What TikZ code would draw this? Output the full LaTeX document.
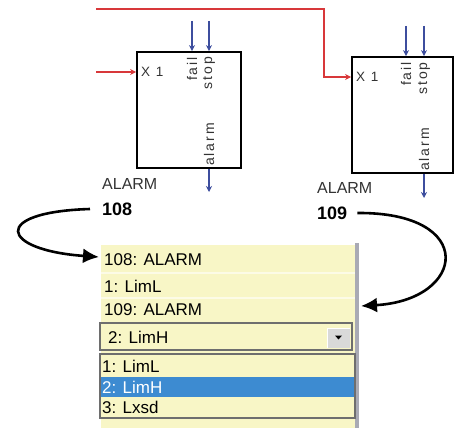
\documentclass[tikz,border=0pt]{standalone}
\usepackage{fontspec}
\setmainfont{Liberation Sans}
\newfontfamily\portfont[LetterSpace=14]{Liberation Sans}
\usetikzlibrary{arrows.meta, positioning}
\definecolor{wirered}{HTML}{D8383A}
\definecolor{sigblue}{HTML}{3D4E9E}
\definecolor{lblgray}{HTML}{333333}
\definecolor{listyellow}{HTML}{F8F6C6}
\definecolor{rowline}{HTML}{FCFBE6}
\definecolor{selblue}{HTML}{3D8BD1}
\definecolor{framegray}{HTML}{6E6E6E}
\definecolor{barfill}{HTML}{A9AAB4}

\begin{document}
\begin{tikzpicture}[x=1pt, y=-1pt,
      block/.style={rectangle, draw=black, line width=1.8pt, minimum width=104pt, minimum height=116pt},
      redwire/.style={wirered, line width=1.3pt, -{Stealth[length=6pt, width=6pt]}},
      sig/.style={sigblue, line width=1.3pt, -{Stealth[length=6pt, width=6pt]}},
      pin/.style={font=\portfont\fontsize{13.5}{14}\selectfont, text=lblgray, inner sep=0pt},
      port/.style={rotate=90, font=\portfont\fontsize{14}{15}\selectfont, text=lblgray, inner sep=0pt},
      tag/.style={anchor=west, font=\fontsize{16}{17}\selectfont, text=lblgray, inner sep=0pt},
      num/.style={anchor=west, font=\fontsize{18}{19}\selectfont\bfseries, inner sep=0pt},
      rowtxt/.style={anchor=west, font=\fontsize{17}{18}\selectfont, inner sep=0pt},
      pointer/.style={line width=2.6pt, -{Latex[length=16pt, width=15pt]}},
    ]
    \useasboundingbox (0,0) rectangle (455,428);

    % the two function blocks
    \node[block] (blk1) at (189,110) {};
    \node[block, minimum width=101pt] (blk2) at (402.5,115) {};

    % red x1 wires
    \coordinate (wtop) at (96,9);
    \coordinate (win) at (96,72);
    \draw[redwire] (win) -- (blk1.west |- win);
    \draw[redwire] (wtop) -| (324,77) -- (blk2.west |- 0,77);
    \node[pin, anchor=west] (x1a) at (141,72) {X 1};
    \node[pin, anchor=west] (x1b) at (356,77) {X 1};

    % blue signals, block 108
    \coordinate (fail1) at (192,21);
    \coordinate (stop1) at (209,21);
    \coordinate (out1) at (209,192);
    \draw[sig] (fail1) -- (fail1 |- blk1.north);
    \draw[sig] (stop1) -- (stop1 |- blk1.north);
    \draw[sig] (stop1 |- blk1.south) -- (out1);
    \node[port, anchor=east] (pf1) at (192,57) {fail};
    \node[port, anchor=east] (ps1) at (209,57) {stop};
    \node[port, anchor=west] (pa1) at (209,166) {alarm};

    % blue signals, block 109
    \coordinate (fail2) at (406,26);
    \coordinate (stop2) at (424,26);
    \coordinate (out2) at (424,198);
    \draw[sig] (fail2) -- (fail2 |- blk2.north);
    \draw[sig] (stop2) -- (stop2 |- blk2.north);
    \draw[sig] (stop2 |- blk2.south) -- (out2);
    \node[port, anchor=east] (pf2) at (406,62) {fail};
    \node[port, anchor=east] (ps2) at (424,62) {stop};
    \node[port, anchor=west] (pa2) at (424,171) {alarm};

    % block names and numbers
    \node[tag] (nm1) at (102,184) {ALARM};
    \node[num] (num108) at (102,209) {108};
    \node[tag] (nm2) at (317,188) {ALARM};
    \node[num] (num109) at (317,213) {109};

    % list panel
    \fill[listyellow] (101,245) rectangle (355,428);
    \fill[barfill] (355,243) rectangle (359,428);
    \draw[rowline, line width=1.2pt] (101,273) -- (355,273);
    \draw[rowline, line width=1.2pt] (101,298) -- (355,298);
    \node[rowtxt] (row108) at (104,260) {108: ALARM};
    \node[rowtxt] (row1) at (104,286) {1: LimL};
    \node[rowtxt] (row109) at (104,310) {109: ALARM};

    % combo box
    \draw[framegray, line width=1.4pt] (100,323) rectangle (352,350);
    \fill[white!85!black] (327,328) rectangle (350,348);
    \draw[white, line width=0.8pt] (327,348) |- (350,328);
    \fill[black] (335,335.5) -- (342,335.5) -- (338.5,339.5) -- cycle;
    \node[rowtxt] (combo) at (108,337) {2: LimH};

    % drop-down list
    \fill[selblue] (100,377) rectangle (355,397);
    \draw[framegray, line width=1.2pt] (100,354) rectangle (355,418);
    \node[rowtxt] (opt1) at (102,366) {1: LimL};
    \node[rowtxt, text=white] (opt2) at (102,387) {2: LimH};
    \node[rowtxt] (opt3) at (102,407) {3: Lxsd};

    % curved pointers
    \coordinate (tip108) at (99,257);
    \coordinate (tip109) at (361,306);
    \draw[pointer] ([xshift=-12pt]num108.west)
      .. controls (-10,212) and (0,250) .. (tip108);
    \draw[pointer] ([xshift=10pt]num109.east)
      .. controls (478,212) and (466,300) .. (tip109);
  \end{tikzpicture}
\end{document}
